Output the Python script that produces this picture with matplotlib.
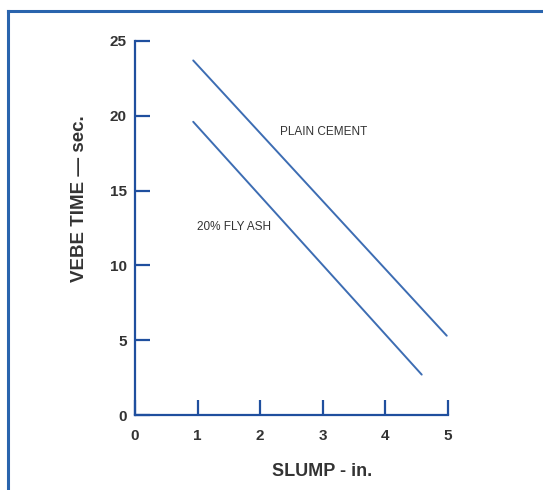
import matplotlib.pyplot as plt
from matplotlib.lines import Line2D

# slump (in.) vs vebe time (sec.)
plain_slump = [0.93, 4.98]
plain_vebe = [23.7, 5.3]
flyash_slump = [0.93, 4.58]
flyash_vebe = [19.6, 2.7]
x_ticks = [0, 1, 2, 3, 4, 5]
y_ticks = [0, 5, 10, 15, 20, 25]

axis_blue = '#1f4f9e'
line_blue = '#3d6db3'
text_grey = '#333333'

plt.rcParams['font.family'] = ['Liberation Sans', 'DejaVu Sans']

fig = plt.figure(figsize=(5.43, 4.9), dpi=100)
ax = fig.add_axes([135 / 543, 75 / 490, 313 / 543, 374 / 490])

ax.plot(plain_slump, plain_vebe, color=line_blue, lw=1.4, solid_capstyle='round')
ax.plot(flyash_slump, flyash_vebe, color=line_blue, lw=1.4, solid_capstyle='round')

ax.set_xlim(0, 5)
ax.set_ylim(0, 25)
ax.set_xticks(x_ticks)
ax.set_yticks(y_ticks)
for s in ['top', 'right']:
    ax.spines[s].set_visible(False)
for s in ['left', 'bottom']:
    ax.spines[s].set_color(axis_blue)
    ax.spines[s].set_linewidth(1.6)
ax.tick_params(direction='in', length=11, width=1.6, color=axis_blue,
               labelsize=11, labelcolor=text_grey)
ax.tick_params(axis='x', pad=10)
ax.tick_params(axis='y', pad=6)
for lbl in ax.get_xticklabels() + ax.get_yticklabels():
    lbl.set_fontweight('bold')

ax.set_xlabel('SLUMP - in.', fontsize=13, fontweight='bold', color=text_grey)
ax.xaxis.set_label_coords(0.597, -0.128)
ax.set_ylabel('VEBE TIME \u2014 sec.', fontsize=13.5, fontweight='bold', color=text_grey)
ax.yaxis.set_label_coords(-0.15, 0.578)

ax.text(2.32, 18.9, 'PLAIN CEMENT', fontsize=8.5, color=text_grey, va='center')
ax.text(0.99, 12.57, '20% FLY ASH', fontsize=8.5, color=text_grey, va='center')

# blue frame on the top and left edges
fig.add_artist(Line2D([8 / 543, 8 / 543], [0, 1 - 11 / 490], transform=fig.transFigure,
                      color='#2a64ad', lw=2.2))
fig.add_artist(Line2D([8 / 543, 1], [1 - 11 / 490, 1 - 11 / 490], transform=fig.transFigure,
                      color='#2a64ad', lw=2.2))

fig.savefig('out.png', dpi=100)
